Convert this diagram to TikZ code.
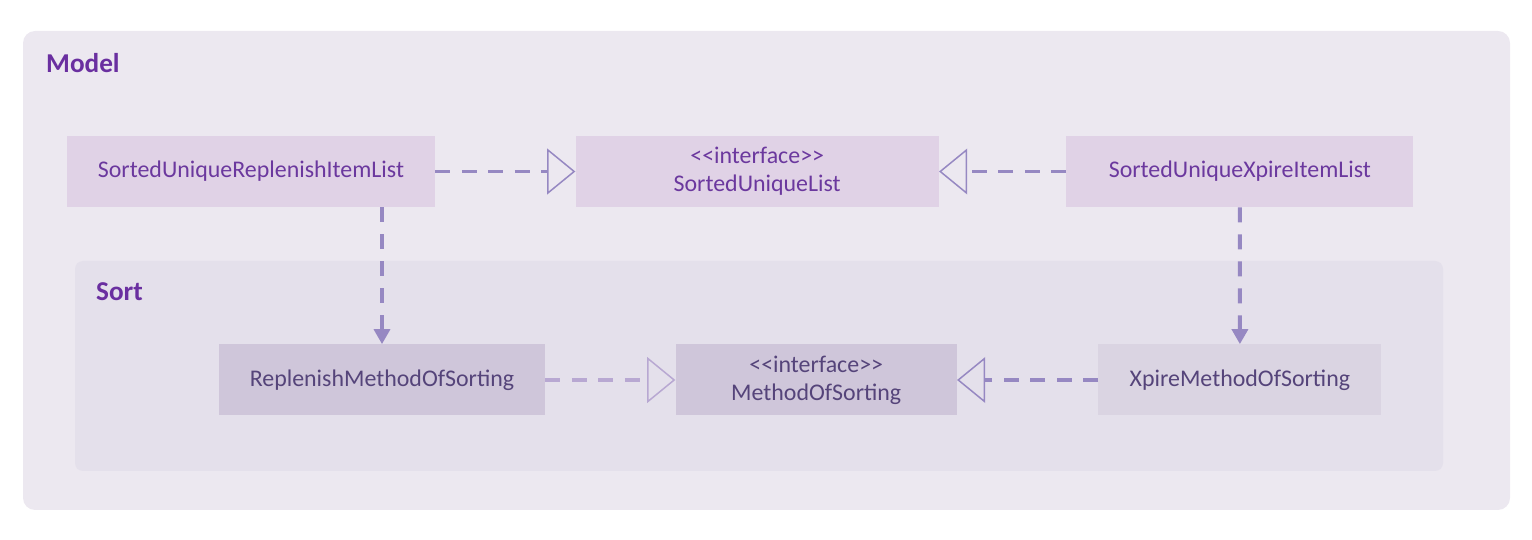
\documentclass[tikz,border=0pt]{standalone}
\usepackage{fontspec}
\setmainfont{Carlito}
\usetikzlibrary{arrows.meta,positioning}
\definecolor{modelbg}{RGB}{236,232,240}
\definecolor{sortbg}{RGB}{228,224,235}
\definecolor{pkgpurple}{RGB}{106,47,160}
\definecolor{clsfill}{RGB}{224,210,230}
\definecolor{clstext}{RGB}{107,56,158}
\definecolor{sortfill}{RGB}{207,198,218}
\definecolor{sortfilltwo}{RGB}{218,212,226}
\definecolor{sorttext}{RGB}{85,68,122}
\definecolor{arrcol}{RGB}{150,136,194}
\definecolor{arrlight}{RGB}{184,168,210}
\tikzset{
  pkgbox/.style={rounded corners=#1},
  pkglabel/.style={anchor=west, text=pkgpurple, font=\fontsize{15.5}{18}\selectfont\bfseries},
  clsbox/.style={minimum height=1.42cm, inner sep=0pt, align=center,
                 font=\fontsize{13.6}{16}\selectfont},
  topcls/.style={clsbox, fill=clsfill, text=clstext},
  sortcls/.style={clsbox, fill=sortfill, text=sorttext},
  realarr/.style={arrcol, line width=2.2pt, dash pattern=on 0.3cm off 0.23cm,
                  -{Triangle[open, length=16pt, width=26pt, line width=0.85pt]}},
  deparr/.style={arrcol, line width=2.2pt, dash pattern=on 0.3cm off 0.24cm,
                 -{Triangle[length=8.5pt, width=9pt]}},
}
\begin{document}
\begin{tikzpicture}
  \useasboundingbox (0,0) rectangle (30.64,-10.8);
  % packages
  \fill[pkgbox=0.24cm, modelbg] (0.46,-0.62) rectangle (30.2,-10.2);
  \node[pkglabel] (model) at (0.8,-1.26) {Model};
  \fill[pkgbox=0.16cm, sortbg] (1.5,-5.22) rectangle (28.86,-9.42);
  \node[pkglabel] (sort) at (1.8,-5.84) {Sort};

  % classes
  \node[topcls, minimum width=7.36cm] (replist) at (5.02,-3.43) {SortedUniqueReplenishItemList};
  \node[topcls, minimum width=7.26cm, right=2.8cm of replist] (uniqlist)
       {{<}{<}interface{>}{>}\\SortedUniqueList};
  \node[topcls, minimum width=6.94cm, right=2.54cm of uniqlist] (xpirelist) {SortedUniqueXpireItemList};

  \node[sortcls, minimum width=6.52cm] (repsort) at (7.64,-7.6) {ReplenishMethodOfSorting};
  \node[sortcls, minimum width=5.62cm, right=2.6cm of repsort] (methsort)
       {{<}{<}interface{>}{>}\\MethodOfSorting};
  \node[sortcls, fill=sortfilltwo, minimum width=5.66cm, right=2.82cm of methsort] (xpiresort)
       {XpireMethodOfSorting};

  % arrows
  \draw[realarr] (replist) -- (uniqlist);
  \draw[realarr] (xpirelist) -- (uniqlist);
  \draw[realarr, arrlight] (repsort) -- (methsort);
  \draw[realarr] (xpiresort) -- (methsort);
  \draw[deparr] (replist.south -| repsort) -- (repsort);
  \draw[deparr] (xpirelist) -- (xpiresort);
\end{tikzpicture}
\end{document}
